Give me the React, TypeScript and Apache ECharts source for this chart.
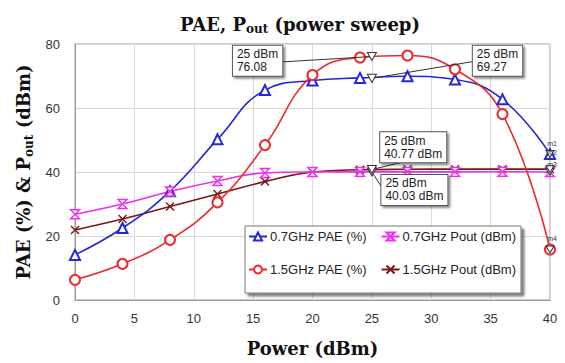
import React, { useEffect, useRef } from "react";
import * as echarts from "echarts";

// ---- data ----
const powerIn = [0, 4, 8, 12, 16, 20, 24, 28, 32, 36, 40];
const pae07 = [14.1, 22.5, 34.0, 50.2, 65.6, 68.6, 69.4, 69.9, 68.9, 62.7, 45.6];
const pae15 = [6.3, 11.3, 18.8, 30.5, 48.4, 70.3, 75.8, 76.4, 72.1, 58.1, 15.8];
const pout07 = [26.8, 30.0, 33.9, 37.2, 39.7, 40.0, 40.05, 40.05, 40.05, 40.1, 40.0];
const pout15 = [21.9, 25.3, 29.2, 33.1, 37.0, 40.0, 40.7, 40.85, 40.9, 40.9, 40.9];
const seriesNames = ["0.7GHz PAE (%)", "0.7GHz Pout (dBm)", "1.5GHz PAE (%)", "1.5GHz Pout (dBm)"];
const xTicks = [0, 5, 10, 15, 20, 25, 30, 35, 40];
const yTicks = [0, 20, 40, 60, 80];

// marker readouts at 25 dBm
const markerX = 25;
const readPae15 = 76.08;
const readPae07 = 69.27;
const readPout15 = 40.77;
const readPout07 = 40.03;
// where each readout box sits (data coords of box left-middle) and where its leader ends
const boxPae15 = [13.3, 74.8];
const leadPae15 = [17.43, 74.4];
const boxPae07 = [33.5, 74.8];
const leadPae07 = [33.5, 74.5];
const boxPout15 = [25.7, 47.7];
const leadPout15 = [27.6, 43.1];
const boxPout07 = [25.8, 34.4];
const leadPout07 = [25.8, 35.4];

const colors = {
  blue: "#2626d9",
  magenta: "#ee2fee",
  red: "#ec2a2a",
  brown: "#7d1515",
};

const invTri = "path://M0,0L10,0L5,9Z";
const hourglass = "path://M0,0L10,0L0,10L10,10Z";
const cross = "path://M0,0L10,10M10,0L0,10";

const boxLabel = (text: string) => ({
  show: true,
  position: "inside",
  formatter: text,
  align: "left",
  verticalAlign: "middle",
  fontFamily: "Liberation Sans",
  fontSize: 12,
  lineHeight: 13,
  color: "#222",
  backgroundColor: "#fff",
  borderColor: "#555",
  borderWidth: 1,
  padding: [2, 4, 2, 4],
  shadowColor: "rgba(0,0,0,0.45)",
  shadowBlur: 2,
  shadowOffsetX: 2,
  shadowOffsetY: 2,
});

const readout = (
  y: number,
  box: number[],
  lead: number[],
  text: string,
  endVal: number,
  endTag: string,
  tagOffset: number[]
) => ({
  markPoint: {
    silent: true,
    data: [
      {
        coord: [markerX, y],
        symbol: invTri,
        symbolSize: [9, 8],
        itemStyle: { color: "#fff", borderColor: "#333", borderWidth: 1 },
        label: { show: false },
      },
      {
        coord: box,
        symbol: "rect",
        symbolSize: 0,
        label: boxLabel(text),
      },
      {
        coord: [40, endVal],
        symbol: invTri,
        symbolSize: [8, 7],
        itemStyle: { color: "#fff", borderColor: "#333", borderWidth: 1 },
        label: {
          show: true,
          position: "top",
          formatter: endTag,
          fontSize: 7,
          lineHeight: 7,
          color: "#333",
          offset: tagOffset,
          fontFamily: "Liberation Sans",
        },
      },
    ],
  },
  markLine: {
    silent: true,
    symbol: ["none", "none"],
    lineStyle: { color: "#333", width: 1, type: "solid" },
    label: { show: false },
    data: [[{ coord: [markerX, y] }, { coord: lead }]],
  },
});

const serif = "DejaVu Serif";

export default function App() {
  const ref = useRef<HTMLDivElement>(null);
  useEffect(() => {
    if (!ref.current) return;
    const chart = echarts.init(ref.current, null, { renderer: "svg" });
    const pair = (arr: number[]) => powerIn.map((x, i) => [x, arr[i]]);
    const lineBase = {
      type: "line",
      smooth: 0.45,
      showAllSymbol: true,
      z: 3,
    };
    chart.setOption({
      animation: false,
      backgroundColor: "#fff",
      title: {
        text: "{a|PAE, P}{s|out}{a| (power sweep)}",
        left: 175,
        top: 8,
        textStyle: {
          rich: {
            a: { fontFamily: serif, fontWeight: "bold", fontSize: 18, lineHeight: 22, color: "#111", verticalAlign: "middle" },
            s: { fontFamily: serif, fontWeight: "bold", fontSize: 12, lineHeight: 12, color: "#111", verticalAlign: "bottom" },
          },
        },
      },
      grid: { left: 75, right: 15, top: 44, bottom: 63, show: true, borderColor: "#9a9a9a", borderWidth: 1, backgroundColor: "transparent" },
      legend: {
        left: 245,
        top: 226,
        width: 290,
        orient: "horizontal",
        itemWidth: 18,
        itemHeight: 10,
        itemGap: 14,
        padding: [1, 5, 14, 3],
        backgroundColor: "#fff",
        borderColor: "#777",
        borderWidth: 1,
        shadowColor: "rgba(0,0,0,0.5)",
        shadowBlur: 2,
        shadowOffsetX: 3,
        shadowOffsetY: 3,
        textStyle: { fontFamily: "Liberation Sans", fontSize: 13, lineHeight: 19, color: "#222", padding: [0, 0, 0, -2] },
        data: seriesNames,
      },
      xAxis: {
        type: "value",
        min: 0,
        max: 40,
        interval: 5,
        name: "Power (dBm)",
        nameLocation: "middle",
        nameGap: 39,
        nameTextStyle: { fontFamily: serif, fontWeight: "bold", fontSize: 18, color: "#111" },
        axisLine: { show: true, lineStyle: { color: "#9a9a9a" } },
        axisTick: { show: false },
        splitLine: { show: true, lineStyle: { color: "#dadada" } },
        axisLabel: {
          margin: 12,
          fontFamily: "Liberation Sans",
          fontSize: 13,
          color: "#333",
          formatter: (v: number) => (xTicks.includes(v) ? String(v) : ""),
        },
      },
      yAxis: {
        type: "value",
        min: 0,
        max: 80,
        interval: 20,
        name: "{a|PAE (%) & P}{s|out}{a| (dBm)}",
        nameLocation: "middle",
        nameRotate: 90,
        nameGap: 40,
        nameTextStyle: {
          rich: {
            a: { fontFamily: serif, fontWeight: "bold", fontSize: 18, lineHeight: 22, color: "#111", verticalAlign: "middle" },
            s: { fontFamily: serif, fontWeight: "bold", fontSize: 12, lineHeight: 12, color: "#111", verticalAlign: "bottom" },
          },
        },
        axisLine: { show: true, lineStyle: { color: "#9a9a9a" } },
        axisTick: { show: false },
        splitLine: { show: true, lineStyle: { color: "#dadada" } },
        axisLabel: {
          margin: 15,
          fontFamily: "Liberation Sans",
          fontSize: 13,
          color: "#333",
          formatter: (v: number) => (yTicks.includes(v) ? String(v) : ""),
        },
      },
      series: [
        {
          ...lineBase,
          name: seriesNames[0],
          data: pair(pae07),
          symbol: "emptyTriangle",
          symbolSize: 10,
          lineStyle: { color: colors.blue, width: 1.6 },
          itemStyle: { color: colors.blue, borderWidth: 1.4 },
          ...readout(readPae07, boxPae07, leadPae07, "25 dBm\n" + readPae07.toFixed(2), pae07[10], "m1", [2, 2]),
        },
        {
          ...lineBase,
          name: seriesNames[1],
          data: pair(pout07),
          symbol: hourglass,
          symbolSize: 9,
          lineStyle: { color: colors.magenta, width: 1.6 },
          itemStyle: { color: "#fff", borderColor: colors.magenta, borderWidth: 1.4 },
          ...readout(readPout07, boxPout07, leadPout07, "25 dBm\n" + readPout07.toFixed(2) + " dBm", pout07[10], "m3", [2, 5]),
        },
        {
          ...lineBase,
          name: seriesNames[2],
          data: pair(pae15),
          symbol: "emptyCircle",
          symbolSize: 10,
          lineStyle: { color: colors.red, width: 1.6 },
          itemStyle: { color: colors.red, borderWidth: 1.4 },
          ...readout(readPae15, boxPae15, leadPae15, "25 dBm\n" + readPae15.toFixed(2), pae15[10], "m4", [2, 2]),
        },
        {
          ...lineBase,
          name: seriesNames[3],
          data: pair(pout15),
          symbol: cross,
          symbolSize: 8,
          z: 2,
          lineStyle: { color: colors.brown, width: 1.6 },
          itemStyle: { color: colors.brown, borderColor: colors.brown, borderWidth: 1.4 },
          ...readout(readPout15, boxPout15, leadPout15, "25 dBm\n" + readPout15.toFixed(2) + " dBm", pout15[10], "m2", [2, -4]),
        },
      ],
    });
    return () => chart.dispose();
  }, []);
  return <div ref={ref} style={{ position: "absolute", left: 0, top: 0, width: 565, height: 363 }} />;
}
